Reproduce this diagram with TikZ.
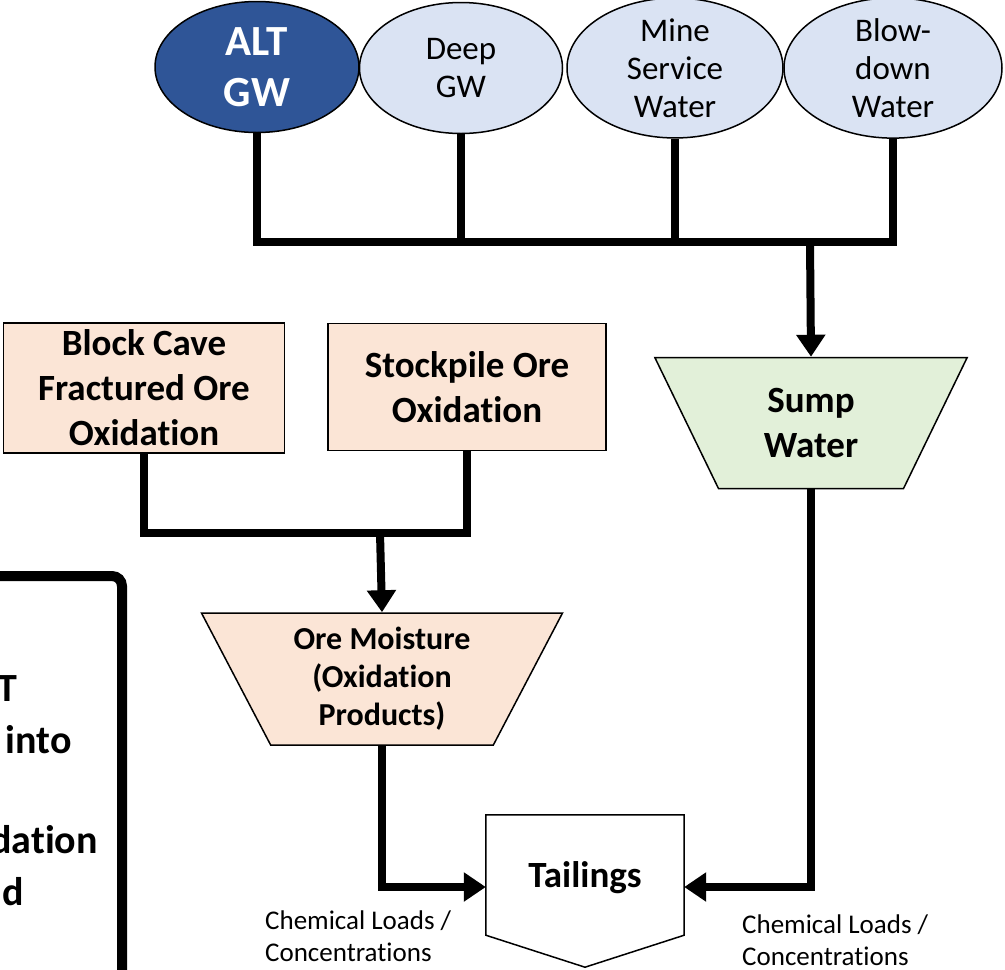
\documentclass[tikz,border=0pt]{standalone}
\usepackage{fontspec}
\setmainfont{Carlito}[Ligatures=NoCommon]
\usetikzlibrary{arrows.meta,shapes.geometric}
\definecolor{altblue}{HTML}{2F5597}
\definecolor{lightblue}{HTML}{DAE3F3}
\definecolor{peach}{HTML}{FBE5D6}
\definecolor{lightgreen}{HTML}{E2F0D9}
\tikzset{
  ell/.style={ellipse, draw, line width=1.5pt, inner sep=0pt, align=center},
  src/.style={ell, fill=lightblue, font=\fontsize{33}{38}\selectfont},
  orebox/.style={rectangle, draw, line width=1.5pt, fill=peach, align=center, inner sep=0pt,
     font=\fontsize{37}{45}\selectfont\bfseries},
  trap/.style={trapezium, draw, line width=1.5pt, shape border rotate=180, trapezium stretches=true,
     align=center, inner sep=0pt},
  conn/.style={line width=8pt},
  arr/.style={line width=8pt, -{Triangle[length=22pt,width=28pt]}},
  lbl/.style={align=left, anchor=base west, inner sep=0pt, font=\fontsize{27}{32}\selectfont},
  frag/.style={anchor=base east, inner sep=0pt, font=\fontsize{40}{52}\selectfont\bfseries}
}
\begin{document}
\begin{tikzpicture}[x=1pt,y=-1pt]
\useasboundingbox (0,0) rectangle (1005,970);
% source ellipses
\node[ell, fill=altblue, text=white, minimum width=204pt, minimum height=131pt,
      font=\fontsize{43}{51}\selectfont\bfseries] (alt) at (257,67) {ALT\\GW};
\node[src, minimum width=203pt, minimum height=131pt] (deep) at (461,68) {Deep\\GW};
\node[src, minimum width=216pt, minimum height=132pt] (mine) at (675,68) {Mine\\Service\\Water};
\node[src, minimum width=218pt, minimum height=132pt] (blow) at (893,68) {Blow-\\down\\Water};
\coordinate (bar) at (810,242);
\draw[conn] (alt.south) |- (bar);
\draw[conn] (blow.south) |- (bar);
\draw[conn] (deep.south) -- (deep.south |- bar);
\draw[conn] (mine.south) -- (mine.south |- bar);
% sump
\node[trap, fill=lightgreen, trapezium angle=65, minimum width=313pt, minimum height=131pt,
      font=\fontsize{37}{45}\selectfont\bfseries] (sump) at (811,423) {Sump\\Water};
\draw[arr] (bar) -- (sump.north);
% ore boxes
\node[orebox, minimum width=281pt, minimum height=130pt] (block) at (144,388) {Block Cave\\Fractured Ore\\Oxidation};
\node[orebox, minimum width=278pt, minimum height=127pt] (stock) at (467,387) {Stockpile Ore\\Oxidation};
\coordinate (join) at (380,533);
\draw[conn] (block.south) |- (join);
\draw[conn] (stock.south) |- (join);
\node[trap, fill=peach, trapezium angle=62, minimum width=362pt, minimum height=132pt,
      font=\fontsize{32}{38}\selectfont\bfseries] (ore) at (382,679) {Ore Moisture\\(Oxidation\\Products)};
\draw[arr] (join) -- (ore.north);
% tailings
\node[rectangle, inner sep=0pt, minimum width=198pt, minimum height=120pt] (tail) at (585,875) {};
\draw[line width=1.5pt, fill=white] (tail.north west) -- (tail.north east) -- (tail.south east)
   -- ([yshift=-32pt]tail.south) -- (tail.south west) -- cycle;
\node[font=\fontsize{37}{45}\selectfont\bfseries] (taillbl) at ([yshift=-3pt]tail.center) {Tailings};
\coordinate (tin) at (486,887);
\coordinate (tin2) at (684,887);
\draw[arr] (ore.south) |- (tail.west |- tin);
\draw[arr] (sump.south) |- (tail.east |- tin2);
\node[lbl] (cl1) at (265,961) {Chemical Loads /\\Concentrations};
\node[lbl] (cl2) at (742,965) {Chemical Loads /\\Concentrations};
% left partial box
\draw[line width=10pt, rounded corners=10pt] (-40,576) -- (122,576) -- (122,1000);
\node[frag] (f1) at (17,701) {LT};
\node[frag] (f2) at (72,753) {into};
\node[frag] (f3) at (98,853) {dation};
\node[frag] (f4) at (24,905) {d};
\end{tikzpicture}
\end{document}
